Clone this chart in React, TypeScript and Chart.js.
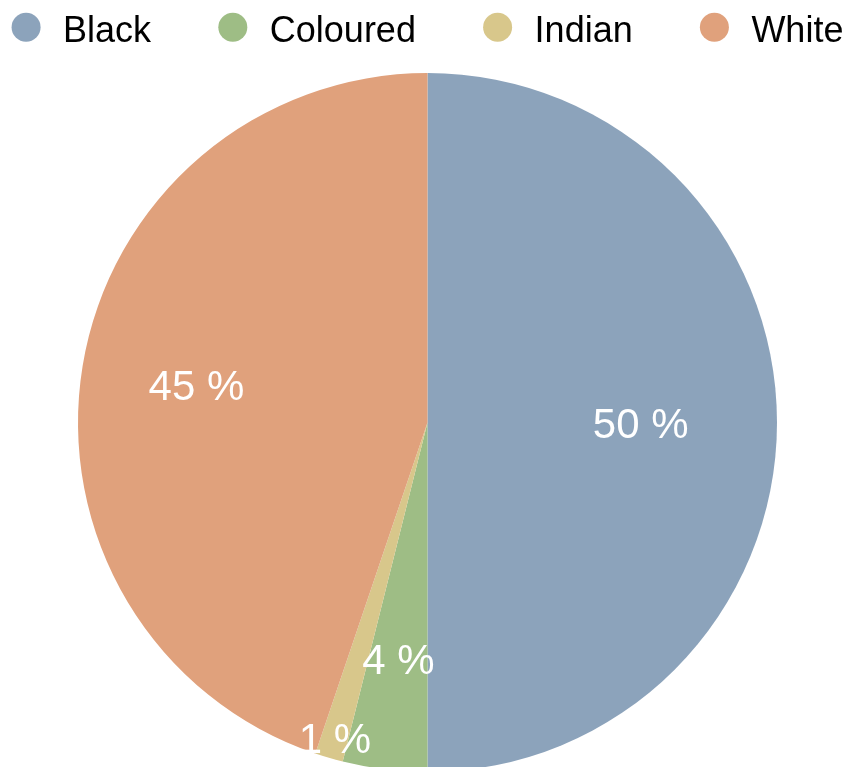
import React, { useEffect, useRef } from "react";
import Chart from "chart.js/auto";

const categories = ["Black", "Coloured", "Indian", "White"];
const shares = [50.0, 3.9, 1.3, 44.8];
const sliceColors = ["#8ca3bb", "#9ebd85", "#d8c78b", "#e0a17c"];

const FONT = "'Liberation Sans', Arial, Helvetica, sans-serif";

export default function App() {
  const ref = useRef<HTMLCanvasElement | null>(null);

  useEffect(() => {
    if (!ref.current) return;

    const labelRadius = [0.61, 0.68, 0.94, 0.67];

    const sliceLabels = {
      id: "sliceLabels",
      afterDatasetsDraw(chart: any) {
        const ctx = chart.ctx;
        const meta = chart.getDatasetMeta(0);
        const data = chart.data.datasets[0].data as number[];
        ctx.save();
        ctx.font = `42px ${FONT}`;
        ctx.fillStyle = "#ffffff";
        ctx.textAlign = "center";
        ctx.textBaseline = "middle";
        meta.data.forEach((arc: any, i: number) => {
          const p = arc.getProps(["x", "y", "startAngle", "endAngle", "outerRadius"], true);
          const mid = (p.startAngle + p.endAngle) / 2;
          const r = p.outerRadius * labelRadius[i];
          ctx.fillText(
            Math.round(data[i]) + " %",
            p.x + Math.cos(mid) * r,
            p.y + Math.sin(mid) * r + 4
          );
        });
        ctx.restore();
      },
    };

    const topLegend = {
      id: "topLegend",
      afterDraw(chart: any) {
        const ctx = chart.ctx;
        const labels = chart.data.labels as string[];
        const bg = chart.data.datasets[0].backgroundColor as string[];
        ctx.save();
        ctx.font = `36px ${FONT}`;
        const R = 14.5;
        const textGap = 37;
        const itemGap = 81.7;
        const widths = labels.map((l) => ctx.measureText(l).width);
        const total =
          R + labels.length * textGap + widths.reduce((a, b) => a + b, 0) + (labels.length - 1) * itemGap;
        let cx = 427.5 - total / 2 + R;
        labels.forEach((l, i) => {
          ctx.fillStyle = bg[i];
          ctx.beginPath();
          ctx.arc(cx, 27.3, R, 0, Math.PI * 2);
          ctx.fill();
          ctx.fillStyle = "#000000";
          ctx.textAlign = "left";
          ctx.textBaseline = "alphabetic";
          ctx.fillText(l, cx + textGap, 42);
          cx += textGap + widths[i] + itemGap;
        });
        ctx.restore();
      },
    };

    const chart = new Chart(ref.current, {
      type: "pie",
      data: {
        labels: categories,
        datasets: [
          {
            data: shares,
            backgroundColor: sliceColors,
            borderWidth: 0,
          },
        ],
      },
      options: {
        animation: false,
        responsive: false,
        maintainAspectRatio: false,
        layout: { padding: { top: 73, left: 10, right: 0, bottom: 8 } },
        plugins: {
          legend: { display: false },
          tooltip: { enabled: false },
          title: { display: false },
        },
      },
      plugins: [sliceLabels, topLegend],
    });

    return () => chart.destroy();
  }, []);

  return (
    <div
      style={{
        position: "fixed",
        left: 0,
        top: 0,
        width: 845,
        height: 767,
        overflow: "hidden",
        background: "#ffffff",
      }}
    >
      <canvas ref={ref} width={845} height={780} style={{ display: "block" }} />
    </div>
  );
}
